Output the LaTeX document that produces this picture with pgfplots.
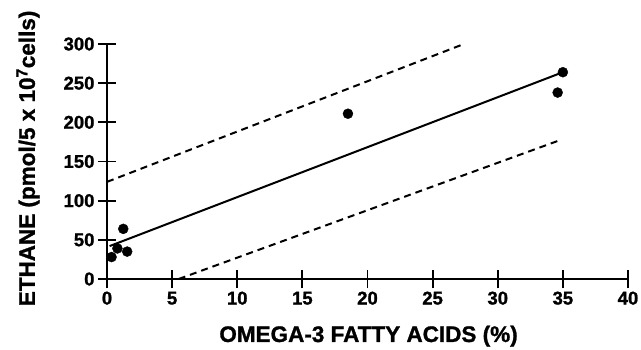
\documentclass[border=0pt]{standalone}
\usepackage{pgfplots}
\pgfplotsset{compat=1.18}
\usepackage{fontspec}
\setmainfont{Liberation Sans}[BoldFeatures={FakeBold=1.2}]
\begin{document}
\begin{tikzpicture}
\path[use as bounding box] (-107pt,-70pt) rectangle (534pt,279pt);
\begin{axis}[
  scale only axis,
  width=521pt, height=235pt,
  xmin=0, xmax=40, ymin=0, ymax=300,
  axis x line=bottom, axis y line=left,
  axis line style={line width=1.8pt, -},
  xtick={0,5,...,40}, ytick={0,50,...,300},
  tick align=center,
  major tick length=18pt,
  tick style={line width=1.8pt, black},
  every tick label/.append style={font=\fontsize{18.5}{20}\selectfont\bfseries},
  xticklabel style={text height=13pt, text depth=0pt},
  /pgf/number format/assume math mode=true,
  clip=false,
  unbounded coords=jump,
  xlabel={OMEGA-3 FATTY ACIDS (\%)},
  ylabel={ETHANE (pmol/5 x 10\textsuperscript{7}cells)},
  label style={font=\fontsize{22.5}{24}\selectfont\bfseries},
  xlabel style={at={(axis description cs:0.502,-0.268)}, anchor=base},
  ylabel style={at={(axis description cs:-0.1385,0.513)}, anchor=base},
]
% tick marks crossing the axes
\addplot[black, line width=1.8pt, forget plot] coordinates {
  (0,-11.5) (0,11.5) (nan,nan)
  (5,-11.5) (5,11.5) (nan,nan)
  (10,-11.5) (10,11.5) (nan,nan)
  (15,-11.5) (15,11.5) (nan,nan)
  (20,-11.5) (20,11.5) (nan,nan)
  (25,-11.5) (25,11.5) (nan,nan)
  (30,-11.5) (30,11.5) (nan,nan)
  (35,-11.5) (35,11.5) (nan,nan)
  (40,-11.5) (40,11.5)
};
\addplot[black, line width=1.8pt, forget plot] coordinates {
  (-0.69,0) (0.69,0) (nan,nan)
  (-0.69,50) (0.69,50) (nan,nan)
  (-0.69,100) (0.69,100) (nan,nan)
  (-0.69,150) (0.69,150) (nan,nan)
  (-0.69,200) (0.69,200) (nan,nan)
  (-0.69,250) (0.69,250) (nan,nan)
  (-0.69,300) (0.69,300)
};
\addplot[only marks, mark=*, mark size=5pt, black] coordinates {
  (0.35,28) (0.8,39) (1.25,64) (1.55,35) (18.5,211) (34.6,238) (35.0,264)
};
\addplot[black, line width=2pt] coordinates {(0.2,42) (35,264)};
\addplot[black, line width=2pt, dash pattern=on 7pt off 5pt] coordinates {(0,124) (27.4,300)};
\addplot[black, line width=2pt, dash pattern=on 7pt off 5pt] coordinates {(5.5,0) (34.9,178)};
\end{axis}
\end{tikzpicture}
\end{document}
